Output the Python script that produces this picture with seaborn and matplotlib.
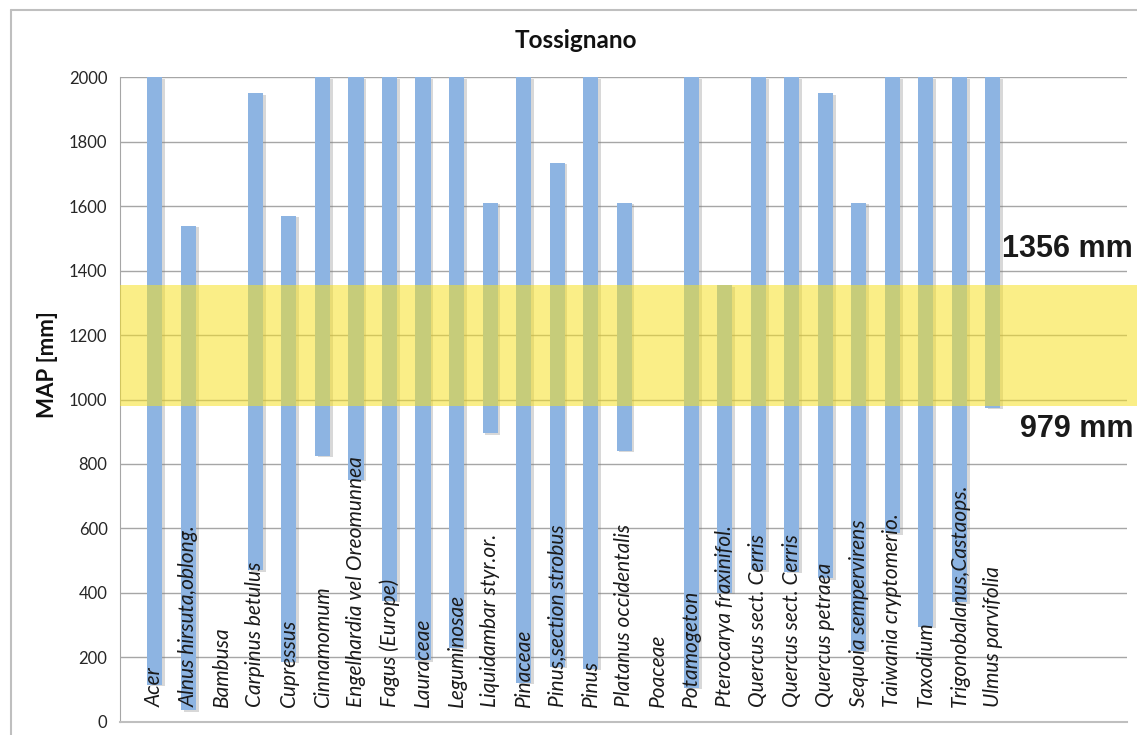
import matplotlib
matplotlib.use("Agg")
import matplotlib.pyplot as plt
import matplotlib.patheffects as pe
from matplotlib.lines import Line2D
import pandas as pd
import seaborn as sns

# --- data (MAP ranges per taxon, mm) ---
taxa = ["Acer", "Alnus hirsuta,oblong.", "Bambusa", "Carpinus betulus", "Cupressus",
        "Cinnamomum", "Engelhardia vel Oreomunnea", "Fagus (Europe)", "Lauraceae",
        "Leguminosae", "Liquidambar styr.or.", "Pinaceae", "Pinus,section strobus",
        "Pinus", "Platanus occidentalis", "Poaceae", "Potamogeton",
        "Pterocarya fraxinifol.", "Quercus sect. Cerris", "Quercus sect. Cerris",
        "Quercus petraea", "Sequoia sempervirens", "Taiwania cryptomerio.",
        "Taxodium", "Trigonobalanus,Castaops.", "Ulmus parvifolia"]
map_low = [115, 35, 0, 470, 185, 825, 750, 375, 190, 230, 895, 120, 170,
           165, 840, 0, 105, 400, 470, 465, 445, 220, 585, 295, 370, 975]
map_high = [2000, 1540, 0, 1950, 1570, 2000, 2000, 2000, 2000, 2000, 1610, 2000, 1735,
            2000, 1610, 0, 2000, 1355, 2000, 2000, 1950, 1610, 2000, 2000, 2000, 2000]
band_low, band_high = 979, 1356
yticks = [0, 200, 400, 600, 800, 1000, 1200, 1400, 1600, 1800, 2000]

df = pd.DataFrame({"pos": range(len(taxa)), "low": map_low, "high": map_high})
df["span"] = df["high"] - df["low"]

sns.set_style("white")
plt.rcParams["font.family"] = ["Lato", "DejaVu Sans"]

fig = plt.figure(figsize=(11.37, 7.35), dpi=100)
ax = fig.add_axes([120 / 1137, 1 - 721.7 / 735, (1127 - 120) / 1137, (721.7 - 77.3) / 735])

# floating bars: bottom = low end of the range
sns.barplot(data=df, x="pos", y="span", bottom=df["low"].to_numpy(), color="#8DB4E2",
            saturation=1, width=0.45, errorbar=None, linewidth=0, ax=ax, zorder=2)
for bar in ax.patches:
    bar.set_path_effects([pe.SimplePatchShadow(offset=(2, -1), shadow_rgbFace="#808080", alpha=0.3),
                          pe.Normal()])

# MAP band (yellow, see-through, runs out to the right edge)
ax.axhspan(band_low, band_high, xmin=0, xmax=1.02, color="#F6E025", alpha=0.55,
           lw=0, zorder=3, clip_on=False)

ax.set_xlim(-1.04, 29.0)
ax.set_ylim(0, 2000)
ax.set_yticks(yticks)
ax.set_xticks([])
ax.set_xlabel("")
ax.set_ylabel("")
ax.yaxis.grid(True, color="#A6A6A6", lw=1)
ax.set_axisbelow(True)
ax.tick_params(axis="y", length=5, color="#A6A6A6", labelsize=12, labelcolor="#262626", pad=4)
for s in ["top", "right"]:
    ax.spines[s].set_visible(False)
ax.spines["left"].set_color("#A6A6A6")
ax.spines["bottom"].set_color("#BFBFBF")
ax.spines["bottom"].set_linewidth(1.5)

# taxon names written inside the plot, bottom-up
for i, name in enumerate(taxa):
    ax.text(i, 45, name, rotation=90, ha="center", va="bottom", fontsize=15,
            style="italic", color="#1a1a1a", zorder=4)

fig.text(576 / 1137, 1 - 40 / 735, "Tossignano", ha="center", va="center",
         fontsize=17.5, fontweight="bold", color="#111111")
fig.text(48 / 1137, 1 - 365 / 735, "MAP [mm]", rotation=90, ha="center", va="center",
         fontsize=16, fontweight="bold", color="#111111")
fig.text(1133 / 1137, 1 - 249 / 735, f"{band_high} mm", ha="right", va="center",
         fontsize=22, fontweight="bold", family="Liberation Sans", color="#1a1a1a")
fig.text(1133 / 1137, 1 - 429 / 735, f"{band_low} mm", ha="right", va="center",
         fontsize=22, fontweight="bold", family="Liberation Sans", color="#1a1a1a")

# chart frame (left and top edges)
fig.add_artist(Line2D([11 / 1137, 11 / 1137], [0, 1 - 10 / 735], color="#BFBFBF", lw=1.5,
                      transform=fig.transFigure))
fig.add_artist(Line2D([11 / 1137, 1], [1 - 10 / 735, 1 - 10 / 735], color="#BFBFBF", lw=1.5,
                      transform=fig.transFigure))

fig.savefig("out.png", dpi=100)
